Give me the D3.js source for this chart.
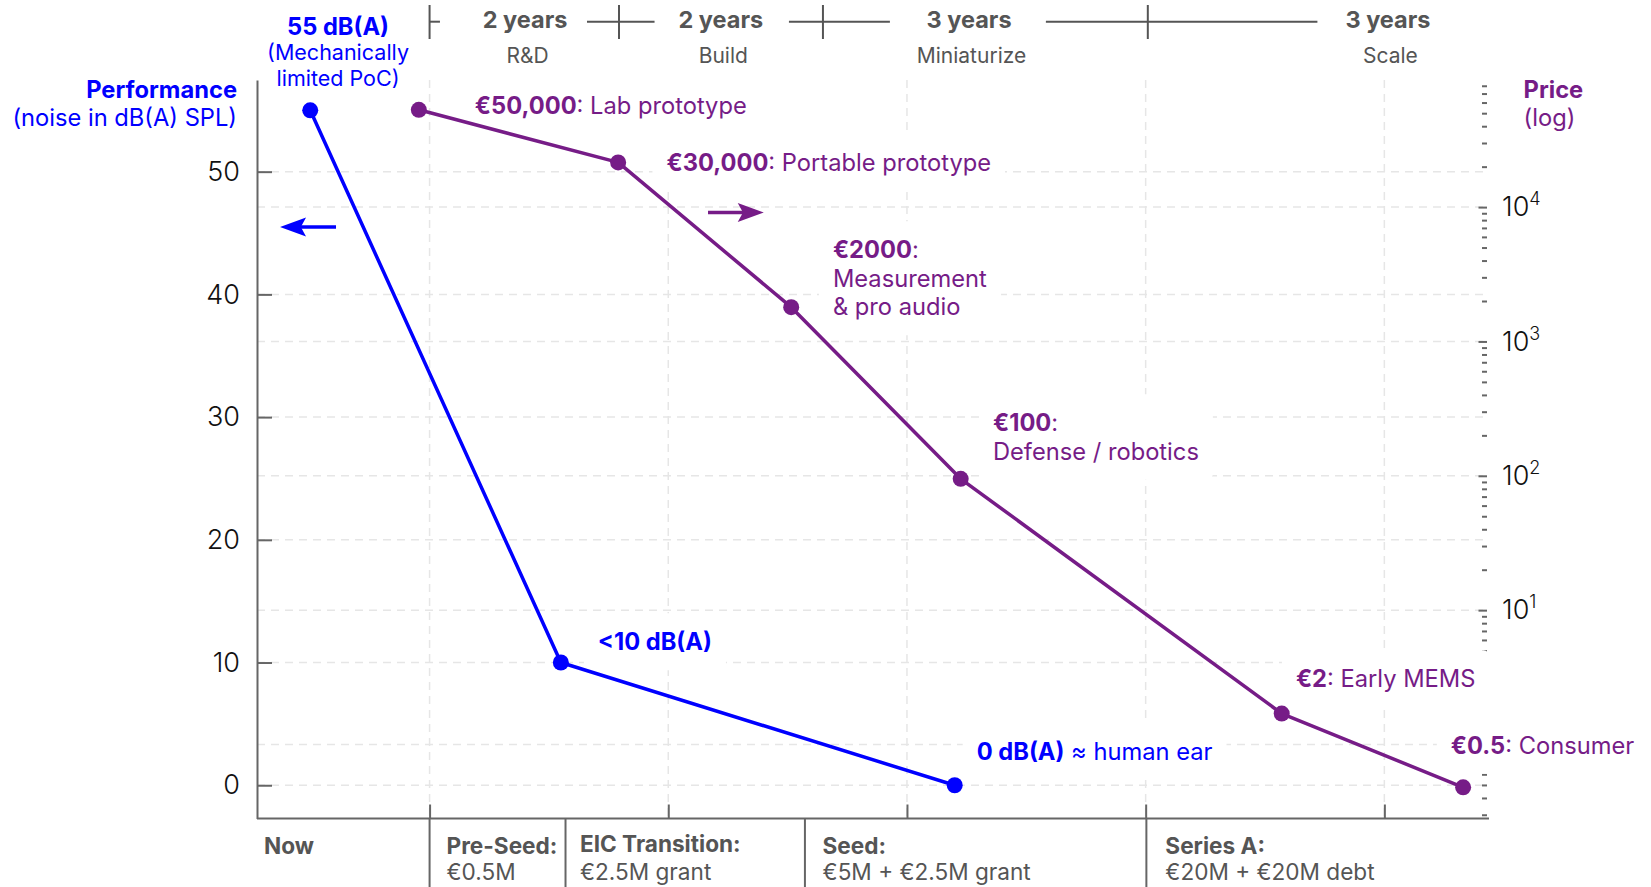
<!DOCTYPE html>
<html>
<head>
<meta charset="utf-8">
<script src="https://cdn.jsdelivr.net/npm/d3@7"></script>
<style>
  html, body { margin: 0; padding: 0; background: #ffffff; }
  svg { display: block; }
  text { font-family: Inter, "Noto Sans", "DejaVu Sans", sans-serif; }
</style>
</head>
<body>
<svg id="chart" width="1651" height="887"></svg>
<script>
// ---------------- DATA ----------------
// Performance series (left axis, dB(A)); x in years relative to start of R&D
const perfX  = [-1.0, 1.1, 4.4];
const perfDb = [55, 10, 0];

// Price series (right axis, log €) — plotted values
const priceX   = [-0.09, 1.58, 3.03, 4.45, 7.14, 8.66];
const priceEur = [53000, 21500, 1800, 95, 1.7, 0.48];

// Price annotations: bold part, then rest of first line, then further lines
const priceBold  = ["€50,000", "€30,000", "€2000", "€100", "€2", "€0.5"];
const priceFirst = [": Lab prototype", ": Portable prototype", ":", ":", ": Early MEMS", ": Consumer"];
const priceMore  = [[], [], ["Measurement", "& pro audio"], ["Defense / robotics"], [], []];

// Performance annotations
const perfBold  = ["55 dB(A)", "<10 dB(A)", "0 dB(A)"];
const perfFirst = ["", "", " ≈ human ear"];
const perfMore  = [["(Mechanically", "limited PoC)"], [], []];

// Axis ticks
const leftTicks   = [0, 10, 20, 30, 40, 50];
const rightMajor  = [1, 10, 100, 1000, 10000];
const rightExpo   = ["0", "1", "2", "3", "4"];
const bottomTicks = [0, 2, 4, 6, 8];

// Top timeline phases
const phaseMarks   = [0, 1.587, 3.296, 6.018];
const phaseYears   = ["2 years", "2 years", "3 years", "3 years"];
const phaseNames   = ["R&D", "Build", "Miniaturize", "Scale"];
const phaseCenters = [0.80, 2.44, 4.52, 8.03];
const phaseLineSegs = [[0, 0.087], [1.319, 1.885], [3.011, 3.857], [5.164, 7.439]];

// Funding rounds (bottom)
const fundSeps   = [0, 1.139, 3.145, 6.006];
const fundStart  = [-1.387, 0.142, 1.26, 3.293, 6.165];
const fundTitle  = ["Now", "Pre-Seed:", "EIC Transition:", "Seed:", "Series A:"];
const fundAmount = ["", "€0.5M", "€2.5M grant", "€5M + €2.5M grant", "€20M + €20M debt"];

// Direction arrows (x from, x to, value on own axis)
const perfArrow  = [-0.784, -1.253, 45.5];
const priceArrow = [2.333, 2.80, 9100];

// ---------------- LAYOUT / STYLE ----------------
const BLUE = "#0000ff", PURPLE = "#761c87", GRAY = "#555555", AXIS = "#666666", GRID = "#e6e6e6";
const FS = 23.7;       // annotation text
const FS_TOP = 23.5;   // "x years"
const FS_SUB = 21;     // phase names
const FS_BOT = 22.6;   // funding
const plot = {left: 257, right: 1487, top: 80, bottom: 818.5};

const x  = d3.scaleLinear().domain([-1.446, 8.86]).range([plot.left, plot.right]);
const yL = d3.scaleLinear().domain([-2.71, 57.47]).range([plot.bottom, plot.top]);
const yR = d3.scaleLog().domain([Math.pow(10, -0.5508), Math.pow(10, 4.946)]).range([plot.bottom, plot.top]);

const svg = d3.select("#chart");

// ---------------- GRID ----------------
const gGrid = svg.append("g").attr("stroke", GRID).attr("stroke-width", 1.5).attr("stroke-dasharray", "8,6");
gGrid.selectAll("line.gl").data(leftTicks).join("line")
  .attr("x1", plot.left).attr("x2", plot.right).attr("y1", d => yL(d)).attr("y2", d => yL(d));
gGrid.selectAll("line.gr").data(rightMajor).join("line")
  .attr("x1", plot.left).attr("x2", plot.right).attr("y1", d => yR(d)).attr("y2", d => yR(d));
gGrid.selectAll("line.gx").data(bottomTicks).join("line")
  .attr("x1", d => x(d)).attr("x2", d => x(d)).attr("y1", plot.top).attr("y2", plot.bottom);

// ---------------- AXES ----------------
function styleAxis(g) {
  g.selectAll("path.domain").attr("stroke", AXIS).attr("stroke-width", 2);
  g.selectAll(".tick line").attr("stroke", AXIS).attr("stroke-width", 2);
}
const gLeft = svg.append("g").attr("transform", `translate(${plot.left},0)`)
  .call(d3.axisLeft(yL).tickValues(leftTicks).tickSizeInner(-15).tickSizeOuter(0).tickPadding(17));
styleAxis(gLeft);
gLeft.selectAll(".tick text").attr("font-size", 27).attr("font-weight", 300).attr("fill", "#111")
  .attr("font-family", "Inter, sans-serif");

const gBottom = svg.append("g").attr("transform", `translate(0,${plot.bottom})`)
  .call(d3.axisBottom(x).tickValues(bottomTicks).tickSizeInner(-14).tickSizeOuter(0).tickFormat(""));
styleAxis(gBottom);
gBottom.select("path.domain").attr("d", `M${plot.left},0H${plot.right + 2}`);

const minorTicks = yR.ticks().filter(v => rightMajor.indexOf(v) < 0);
const gRightMinor = svg.append("g").attr("transform", `translate(${plot.right},0)`)
  .call(d3.axisRight(yR).tickValues(minorTicks).tickSizeInner(-5).tickSizeOuter(0).tickFormat(""));
gRightMinor.select("path.domain").remove();
gRightMinor.selectAll(".tick line").attr("stroke", AXIS).attr("stroke-width", 2);

const gRight = svg.append("g").attr("transform", `translate(${plot.right},0)`)
  .call(d3.axisRight(yR).tickValues(rightMajor).tickSizeInner(-8.5).tickSizeOuter(0).tickPadding(15).tickFormat(() => ""));
gRight.select("path.domain").remove();
gRight.selectAll(".tick line").attr("stroke", AXIS).attr("stroke-width", 2);
gRight.selectAll(".tick text").each(function(d) {
  const t = d3.select(this);
  t.text(null);
  // the 10^0 label is hidden behind the "€0.5: Consumer" annotation in the reference
  if (d === 1) { t.remove(); return; }
  t.attr("fill", "#111").attr("font-size", 27).attr("font-weight", 300)
    .attr("text-anchor", "start").attr("font-family", "Inter, sans-serif");
  t.append("tspan").text("10");
  t.append("tspan").attr("font-size", 18).attr("dy", -11).text(rightExpo[rightMajor.indexOf(d)]);
});

// ---------------- ANNOTATION BOXES + TEXT ----------------
const gBoxes = svg.append("g");
const gLines = svg.append("g");
const gText  = svg.append("g");

function addLabel(px, py, bold, first, more, color, anchor, lineH, box, subFs) {
  const g = gText.append("g");
  const lines = [[bold, first]].concat(more.map(m => [null, m]));
  lines.forEach((ln, i) => {
    const t = g.append("text").attr("x", px).attr("y", py + i * lineH).attr("dy", "0.35em")
      .attr("font-size", i === 0 ? FS : (subFs || FS)).attr("fill", color).attr("text-anchor", anchor);
    if (ln[0]) t.append("tspan").attr("font-weight", 700).text(ln[0]);
    if (ln[1]) t.append("tspan").attr("font-weight", 400).text(ln[1]);
  });
  if (box) {
    const bb = g.node().getBBox(), pad = 14;
    gBoxes.append("rect").attr("x", bb.x - pad).attr("y", bb.y - pad)
      .attr("width", bb.width + 2 * pad).attr("height", bb.height + 2 * pad)
      .attr("rx", 6).attr("fill", "#ffffff");
  }
  return g;
}

// Price labels (offsets relative to each point)
const priceOff = [[56, -3.8], [48.3, 0], [41.7, -57.2], [32.3, -55.8], [14.2, -34.5], [-12.3, -41.8]];
priceEur.forEach((v, i) => {
  addLabel(x(priceX[i]) + priceOff[i][0], yR(v) + priceOff[i][1],
    priceBold[i], priceFirst[i], priceMore[i], PURPLE, "start", 28.5, true);
});

// Performance labels: dx, dy, anchor, line height, white box, size of extra lines
const perfOff = [[27.8, -84, "middle", 26.3, false, 21.5], [37, -20.5, "start", 28, true], [22, -34, "start", 28, true]];
perfDb.forEach((v, i) => {
  const o = perfOff[i];
  addLabel(x(perfX[i]) + o[0], yL(v) + o[1], perfBold[i], perfFirst[i], perfMore[i], BLUE, o[2], o[3], o[4], o[5]);
});

// ---------------- SERIES ----------------
const perfData  = perfX.map((d, i) => [d, perfDb[i]]);
const priceData = priceX.map((d, i) => [d, priceEur[i]]);

gLines.append("path").datum(perfData)
  .attr("d", d3.line().x(d => x(d[0])).y(d => yL(d[1])))
  .attr("fill", "none").attr("stroke", BLUE).attr("stroke-width", 3.5).attr("stroke-linejoin", "round");
gLines.append("path").datum(priceData)
  .attr("d", d3.line().x(d => x(d[0])).y(d => yR(d[1])))
  .attr("fill", "none").attr("stroke", PURPLE).attr("stroke-width", 3.5).attr("stroke-linejoin", "round");
gLines.selectAll("circle.p").data(perfData).join("circle")
  .attr("cx", d => x(d[0])).attr("cy", d => yL(d[1])).attr("r", 8).attr("fill", BLUE);
gLines.selectAll("circle.q").data(priceData).join("circle")
  .attr("cx", d => x(d[0])).attr("cy", d => yR(d[1])).attr("r", 8).attr("fill", PURPLE);

// Arrows
function arrow(x0, x1, yy, color) {
  const dir = Math.sign(x1 - x0), hl = 26, hw = 9.5;
  gLines.append("line").attr("x1", x0).attr("x2", x1 - dir * hl * 0.6).attr("y1", yy).attr("y2", yy)
    .attr("stroke", color).attr("stroke-width", 3.5);
  gLines.append("path")
    .attr("d", `M${x1},${yy}L${x1 - dir * hl},${yy - hw}L${x1 - dir * hl * 0.8},${yy}L${x1 - dir * hl},${yy + hw}Z`)
    .attr("fill", color);
}
arrow(x(perfArrow[0]), x(perfArrow[1]), yL(perfArrow[2]), BLUE);
arrow(x(priceArrow[0]), x(priceArrow[1]), yR(priceArrow[2]), PURPLE);

gText.raise();

// ---------------- AXIS TITLES ----------------
svg.append("text").attr("x", 237).attr("y", 89.5).attr("dy", "0.35em").attr("text-anchor", "end")
  .attr("font-size", FS).attr("font-weight", 700).attr("fill", BLUE).text("Performance");
svg.append("text").attr("x", 237).attr("y", 118).attr("dy", "0.35em").attr("text-anchor", "end")
  .attr("font-size", FS).attr("fill", BLUE).text("(noise in dB(A) SPL)");
svg.append("text").attr("x", 1523.6).attr("y", 89.5).attr("dy", "0.35em").attr("text-anchor", "start")
  .attr("font-size", FS).attr("font-weight", 700).attr("fill", PURPLE).text("Price");
svg.append("text").attr("x", 1523.6).attr("y", 118).attr("dy", "0.35em").attr("text-anchor", "start")
  .attr("font-size", FS).attr("fill", PURPLE).text("(log)");

// ---------------- TOP TIMELINE ----------------
const gTop = svg.append("g");
const topY = 21.7;
gTop.selectAll("line.seg").data(phaseLineSegs).join("line")
  .attr("x1", d => x(d[0])).attr("x2", d => x(d[1])).attr("y1", topY).attr("y2", topY)
  .attr("stroke", GRAY).attr("stroke-width", 2);
gTop.selectAll("line.mk").data(phaseMarks).join("line")
  .attr("x1", d => x(d)).attr("x2", d => x(d)).attr("y1", 5).attr("y2", 39)
  .attr("stroke", GRAY).attr("stroke-width", 2);
gTop.selectAll("text.yr").data(phaseYears).join("text")
  .attr("x", (d, i) => x(phaseCenters[i])).attr("y", 20).attr("dy", "0.35em").attr("text-anchor", "middle")
  .attr("font-size", FS_TOP).attr("font-weight", 700).attr("fill", GRAY).text(d => d);
gTop.selectAll("text.nm").data(phaseNames).join("text")
  .attr("x", (d, i) => x(phaseCenters[i]) + 2.5).attr("y", 55.5).attr("dy", "0.35em").attr("text-anchor", "middle")
  .attr("font-size", FS_SUB).attr("fill", GRAY).text(d => d);

// ---------------- BOTTOM FUNDING ----------------
const fundDy = [0, 0, -1.5, 0, 0];
const gBot = svg.append("g");
gBot.selectAll("line.sep").data(fundSeps).join("line")
  .attr("x1", d => x(d)).attr("x2", d => x(d)).attr("y1", plot.bottom).attr("y2", 887)
  .attr("stroke", AXIS).attr("stroke-width", 2);
gBot.selectAll("text.ft").data(fundTitle).join("text")
  .attr("x", (d, i) => x(fundStart[i])).attr("y", (d, i) => 846 + fundDy[i]).attr("dy", "0.35em")
  .attr("font-size", FS_BOT).attr("font-weight", 700).attr("fill", GRAY).text(d => d);
gBot.selectAll("text.fa").data(fundAmount).join("text")
  .attr("x", (d, i) => x(fundStart[i])).attr("y", 872).attr("dy", "0.35em")
  .attr("font-size", FS_BOT).attr("fill", GRAY).text(d => d);
</script>
</body>
</html>
